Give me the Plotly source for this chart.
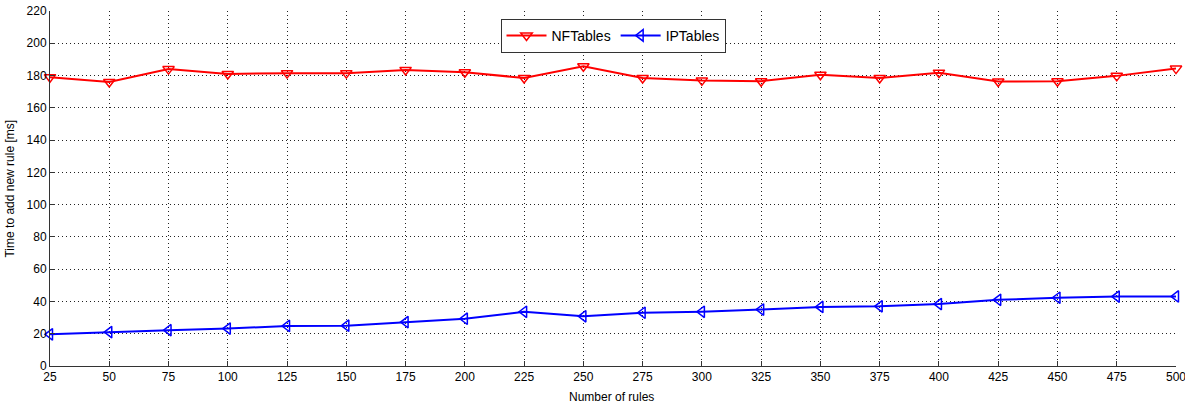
import plotly.graph_objects as go

rules = [25, 50, 75, 100, 125, 150, 175, 200, 225, 250, 275, 300, 325, 350, 375, 400, 425, 450, 475, 500]
nftables = [179, 176, 184, 181, 181.5, 181.5, 183.5, 182, 178.5, 185.8, 178.5, 177, 176.5, 180.5, 178.5, 181.8, 176.3, 176.5, 179.8, 184.3]
iptables = [19.6, 21, 22.2, 23.2, 24.8, 25, 27.2, 29.3, 33.6, 30.8, 33, 33.6, 35, 36.6, 37, 38.4, 41, 42.3, 43, 43.1]

x_ticks = list(range(25, 501, 25))
y_ticks = list(range(0, 221, 20))

fig = go.Figure()
fig.add_trace(go.Scatter(
    x=rules, y=nftables, name="NFTables", mode="lines+markers", cliponaxis=False,
    line=dict(color="#ff0000", width=2),
    marker=dict(symbol="triangle-down-open", size=10, color="#ff0000", line=dict(width=1.5, color="#ff0000")),
))
fig.add_trace(go.Scatter(
    x=rules, y=iptables, name="IPTables", mode="lines+markers", cliponaxis=False,
    line=dict(color="#0000ff", width=2),
    marker=dict(symbol="triangle-left-open", size=10, color="#0000ff", line=dict(width=1.5, color="#0000ff")),
))

axis_common = dict(
    showgrid=True, gridcolor="#222222", griddash="1px,3px", gridwidth=1,
    showline=True, linecolor="#333333", linewidth=1,
    ticks="inside", ticklen=5, tickcolor="#333333",
    tickfont=dict(family="Liberation Sans, Arial, sans-serif", size=12, color="#000000"),
    zeroline=False, mirror=False, automargin=False, ticklabeloverflow="allow",
)

fig.update_layout(
    width=1185, height=406,
    margin=dict(l=50, r=9, t=11, b=40),
    paper_bgcolor="white", plot_bgcolor="white",
    font=dict(family="Liberation Sans, Arial, sans-serif", size=12, color="#000000"),
    xaxis=dict(range=[25, 500], tickvals=x_ticks, ticktext=[str(v) for v in x_ticks], **axis_common),
    yaxis=dict(range=[0, 220], tickvals=y_ticks, ticktext=[str(v) for v in y_ticks], **axis_common),
    legend=dict(orientation="h", x=0.5, xanchor="center", y=0.978, yanchor="top",
                bgcolor="white", bordercolor="#333333", borderwidth=1,
                font=dict(size=14), itemwidth=40, tracegroupgap=0),
    showlegend=True,
    annotations=[
        dict(text="Number of rules", xref="paper", yref="paper", x=0.499, y=-0.087,
             xanchor="center", yanchor="middle", showarrow=False, font=dict(size=12)),
        dict(text="Time to add new rule [ms]", xref="paper", yref="paper", x=-0.0364, y=0.5,
             xanchor="center", yanchor="middle", textangle=-90, showarrow=False, font=dict(size=12)),
    ],
)

fig.write_html("out.html", config={"displayModeBar": False},
               post_script="document.body.style.margin='0';")
